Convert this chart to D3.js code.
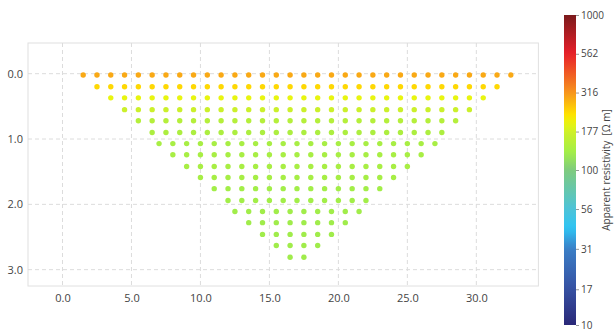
<!DOCTYPE html>
<html>
<head>
<meta charset="utf-8">
<script src="https://cdn.jsdelivr.net/npm/d3@7"></script>
<style>
  html, body { margin: 0; padding: 0; background: #fff; }
  svg { display: block; font-family: "Open Sans", sans-serif; }
</style>
</head>
<body>
<svg id="chart" width="614" height="335"></svg>
<script>
// Pseudosection rows: pseudo-depth, first and last midpoint position (m), 1 m spacing
const rowDepth = [0.02, 0.20, 0.37, 0.55, 0.72, 0.90, 1.07, 1.24, 1.42, 1.59, 1.76, 1.94, 2.11, 2.28, 2.46, 2.63, 2.81];
const rowFirstX = [1.5, 2.5, 3.5, 4.5, 5.5, 6.5, 7, 8, 9, 10, 11, 12, 12.5, 13.5, 14.5, 15.5, 16.5];
const rowLastX  = [32.5, 31.5, 30.5, 29.5, 28.5, 27.5, 27, 26, 25, 24, 23, 22, 21.5, 20.5, 19.5, 18.5, 17.5];
// Apparent resistivity of each row (Ohm m)
const rowRhoa = [290, 238, 200, 172, 148, 140, 135, 135, 135, 134, 130, 130, 129, 128, 128, 128, 128];

// Axis ticks
const xTicks = [0, 5, 10, 15, 20, 25, 30];
const yTicks = [0, 1, 2, 3];
const cbTicks = [10, 17, 31, 56, 100, 177, 316, 562, 1000];

// Colour map stops (log spaced values)
const cmapValues = [10, 17, 31, 42, 56, 100, 130, 177, 200, 230, 316, 562, 1000];
const cmapColors = ["#2a2878", "#3650a2", "#3a7ec6", "#2ec4f4", "#4dc3d8", "#7fcb7e",
                    "#a2ee48", "#cff028", "#e8f510", "#ffe000", "#f7941d", "#e8202a", "#7b1a1c"];

const svg = d3.select("#chart");

const plot = { left: 28, right: 538.4, top: 43, bottom: 286 };
const x = d3.scaleLinear().domain([-2.5, 34.5]).range([plot.left, plot.right]);
const y = d3.scaleLinear().domain([-0.47, 3.25]).range([plot.top, plot.bottom]);

const color = d3.scaleLog().domain(cmapValues).range(cmapColors)
  .interpolate(d3.interpolateRgb).clamp(true);

// Build points from the row table
const points = [];
rowDepth.forEach((d, i) => {
  for (let px = rowFirstX[i]; px <= rowLastX[i] + 1e-9; px += 1) {
    points.push({ x: px, depth: d, rhoa: rowRhoa[i] });
  }
});

// Frame
svg.append("rect")
  .attr("x", plot.left).attr("y", plot.top)
  .attr("width", plot.right - plot.left).attr("height", plot.bottom - plot.top)
  .attr("fill", "none").attr("stroke", "#e0e0e0").attr("stroke-width", 1);

// Grid
const grid = svg.append("g").attr("stroke", "#dcdcdc").attr("stroke-dasharray", "4,3").attr("stroke-width", 1);
grid.selectAll(".gx").data(xTicks).join("line")
  .attr("x1", d => x(d)).attr("x2", d => x(d))
  .attr("y1", plot.top).attr("y2", plot.bottom);
grid.selectAll(".gy").data(yTicks).join("line")
  .attr("x1", plot.left).attr("x2", plot.right)
  .attr("y1", d => y(d)).attr("y2", d => y(d));

// Axes (labels only)
const xAxis = svg.append("g").attr("transform", `translate(0,${plot.bottom})`)
  .call(d3.axisBottom(x).tickValues(xTicks).tickFormat(d3.format(".1f")).tickSize(0).tickPadding(8));
const yAxis = svg.append("g").attr("transform", `translate(${plot.left},0)`)
  .call(d3.axisLeft(y).tickValues(yTicks).tickFormat(d3.format(".1f")).tickSize(0).tickPadding(5));
[xAxis, yAxis].forEach(a => {
  a.select(".domain").remove();
  a.selectAll("text").attr("fill", "#444").style("font-size", "11px")
    .style("font-family", "'Open Sans', sans-serif");
});

// Data points
svg.append("g").selectAll("circle").data(points).join("circle")
  .attr("cx", d => x(d.x)).attr("cy", d => y(d.depth))
  .attr("r", 2.7).attr("fill", d => color(d.rhoa));

// Colour bar
const cb = { x: 564, w: 12, top: 15, bottom: 325 };
const cbScale = d3.scaleLog().domain([10, 1000]).range([cb.bottom, cb.top]);
const defs = svg.append("defs");
const grad = defs.append("linearGradient").attr("id", "cbgrad")
  .attr("x1", 0).attr("y1", 1).attr("x2", 0).attr("y2", 0);
d3.range(0, 1.0001, 0.02).forEach(t => {
  const v = Math.pow(10, 1 + 2 * t);
  grad.append("stop").attr("offset", t).attr("stop-color", color(v));
});
svg.append("rect")
  .attr("x", cb.x).attr("y", cb.top).attr("width", cb.w).attr("height", cb.bottom - cb.top)
  .attr("fill", "url(#cbgrad)");

const cbAxis = svg.append("g").attr("transform", `translate(${cb.x + cb.w},0)`)
  .call(d3.axisRight(cbScale).tickValues(cbTicks).tickFormat(d3.format("d")).tickSize(3).tickPadding(2));
cbAxis.select(".domain").remove();
cbAxis.selectAll("line").attr("stroke", "#999");
cbAxis.selectAll("text").attr("fill", "#444").style("font-size", "10px")
  .style("font-family", "'Open Sans', sans-serif");

svg.append("text")
  .attr("transform", `translate(610,${(cb.top + cb.bottom) / 2}) rotate(-90)`)
  .attr("text-anchor", "middle")
  .attr("fill", "#444")
  .style("font-size", "10px")
  .style("white-space", "pre")
  .text("Apparent resistivity  [Ω m]");
</script>
</body>
</html>
